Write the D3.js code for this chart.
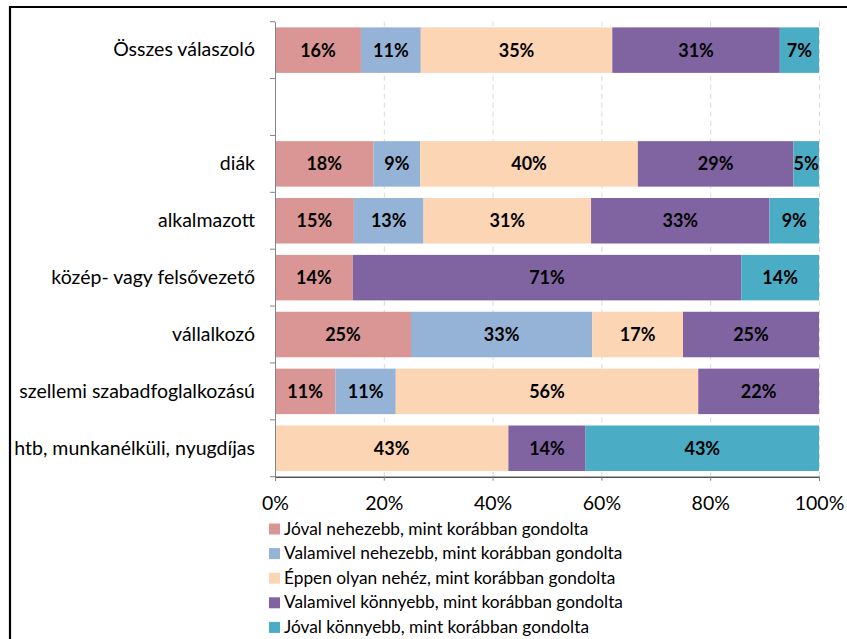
<!DOCTYPE html>
<html>
<head>
<meta charset="utf-8">
<script src="https://cdn.jsdelivr.net/npm/d3@7"></script>
<style>
  body { margin: 0; background: #fff; }
  svg text { font-family: Lato, "Open Sans", sans-serif; }
</style>
</head>
<body>
<div id="chart"></div>
<script>
var categories = [
  "Összes válaszoló",
  "",
  "diák",
  "alkalmazott",
  "közép- vagy felsővezető",
  "vállalkozó",
  "szellemi szabadfoglalkozású",
  "htb, munkanélküli, nyugdíjas"
];
var seriesNames = [
  "Jóval nehezebb, mint korábban gondolta",
  "Valamivel nehezebb, mint korábban gondolta",
  "Éppen olyan nehéz, mint korábban gondolta",
  "Valamivel könnyebb, mint korábban gondolta",
  "Jóval könnyebb, mint korábban gondolta"
];
var seriesColors = ["#D99694", "#95B3D7", "#FCD5B5", "#8064A2", "#4BACC6"];
// values in %, one array per series, in category order
var joval_nehezebb     = [15.8, null, 18.1, 14.5, 14.3, 25.0, 11.1, 0];
var valamivel_nehezebb = [11.0, null,  8.6, 12.8,  0,   33.3, 11.1, 0];
var eppen_olyan        = [35.2, null, 40.0, 30.8,  0,   16.7, 55.6, 42.9];
var valamivel_konnyebb = [30.8, null, 28.6, 32.8, 71.4, 25.0, 22.2, 14.2];
var joval_konnyebb     = [ 7.2, null,  4.7,  9.1, 14.3,  0,    0,   42.9];
var xTicks = [0, 20, 40, 60, 80, 100];

var seriesValues = [joval_nehezebb, valamivel_nehezebb, eppen_olyan, valamivel_konnyebb, joval_konnyebb];

var margin = { top: 21.7, left: 275, right: 28, bottom: 162 },
  width = 544,
  height = 455;

var svg = d3.select("#chart").append("svg")
  .attr("width", 847)
  .attr("height", 639);

// outer frame (top and left edges visible)
svg.append("path")
  .attr("d", "M10,639 L10,7 L847,7")
  .attr("fill", "none")
  .attr("stroke", "#000")
  .attr("stroke-width", 2.2);

var g = svg.append("g")
  .attr("transform", "translate(" + margin.left + "," + margin.top + ")");

var rows = categories.map(function(c, i) {
  var r = { cat: i };
  seriesNames.forEach(function(s, j) { r[j] = seriesValues[j][i] || 0; });
  return r;
});

var stacked = d3.stack().keys(d3.range(seriesNames.length))(rows);

var x = d3.scaleLinear().domain([0, 100]).range([0, width]);
var y = d3.scaleBand().domain(d3.range(categories.length)).range([0, height]).paddingInner(0.2).paddingOuter(0.1);

// gridlines
g.selectAll(".grid")
  .data(xTicks.slice(1))
  .enter().append("line")
  .attr("x1", function(d) { return x(d) + 0.5; })
  .attr("x2", function(d) { return x(d) + 0.5; })
  .attr("y1", 0)
  .attr("y2", height)
  .attr("stroke", "#d9d9d9")
  .attr("stroke-dasharray", "5,4");

var layers = g.selectAll(".layer")
  .data(stacked)
  .enter().append("g")
  .attr("fill", function(d, i) { return seriesColors[i]; });

layers.selectAll("rect")
  .data(function(d) { return d.filter(function(p) { return p[1] - p[0] > 0; }); })
  .enter().append("rect")
  .attr("x", function(d) { return x(d[0]); })
  .attr("width", function(d) { return x(d[1]) - x(d[0]); })
  .attr("y", function(d) { return y(d.data.cat); })
  .attr("height", y.bandwidth());

layers.selectAll("text")
  .data(function(d) { return d.filter(function(p) { return p[1] - p[0] > 0; }); })
  .enter().append("text")
  .attr("x", function(d) { return x((d[0] + d[1]) / 2); })
  .attr("y", function(d) { return y(d.data.cat) + y.bandwidth() / 2; })
  .attr("dy", "0.36em")
  .attr("text-anchor", "middle")
  .attr("fill", "#000")
  .style("font-weight", "bold")
  .style("font-size", "18px")
  .text(function(d) { return Math.round(d[1] - d[0]) + "%"; });

// y axis
var yAxis = g.append("g")
  .call(d3.axisLeft(y).tickSize(0).tickFormat(function(i) { return categories[i]; }));
yAxis.select(".domain").attr("stroke", "#868686");
yAxis.selectAll("text").attr("x", -20).attr("fill", "#000").style("font-size", "19.5px");

// y tick marks on band boundaries
g.selectAll(".ytick")
  .data(d3.range(categories.length + 1))
  .enter().append("line")
  .attr("x1", -5)
  .attr("x2", 0)
  .attr("y1", function(i) { return i * height / categories.length; })
  .attr("y2", function(i) { return i * height / categories.length; })
  .attr("stroke", "#868686");

// x axis
var xAxis = g.append("g")
  .attr("transform", "translate(0," + height + ")")
  .call(d3.axisBottom(x).tickValues(xTicks).tickSize(4).tickFormat(function(d) { return d + "%"; }));
xAxis.select(".domain").attr("stroke", "#000");
xAxis.selectAll(".tick line").attr("stroke", "#868686");
xAxis.selectAll("text").attr("y", 26).attr("dy", "0.35em").attr("fill", "#000").style("font-size", "19.5px");

// legend
var legend = svg.append("g").attr("transform", "translate(269,528.5)");
var item = legend.selectAll(".item")
  .data(seriesNames)
  .enter().append("g")
  .attr("transform", function(d, i) { return "translate(0," + i * 24.6 + ")"; });
item.append("rect")
  .attr("x", 0)
  .attr("y", -5)
  .attr("width", 11)
  .attr("height", 11)
  .attr("fill", function(d, i) { return seriesColors[i]; });
item.append("text")
  .attr("x", 15)
  .attr("dy", "0.35em")
  .style("font-size", "17.3px")
  .attr("fill", "#000")
  .text(function(d) { return d; });
</script>
</body>
</html>
